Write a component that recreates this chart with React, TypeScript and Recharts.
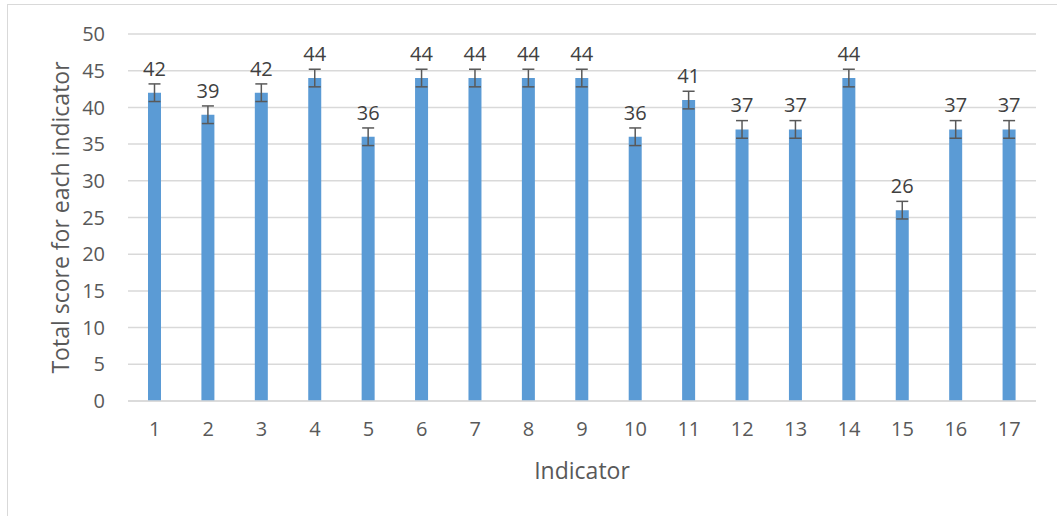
import React from 'react';
import { BarChart, Bar, XAxis, YAxis, CartesianGrid, ErrorBar, LabelList } from 'recharts';

const indicators = ['1','2','3','4','5','6','7','8','9','10','11','12','13','14','15','16','17'];
const scores = [42, 39, 42, 44, 36, 44, 44, 44, 44, 36, 41, 37, 37, 44, 26, 37, 37];
const errors = [1.2, 1.2, 1.2, 1.2, 1.2, 1.2, 1.2, 1.2, 1.2, 1.2, 1.2, 1.2, 1.2, 1.2, 1.2, 1.2, 1.2];
const yTicks = [0, 5, 10, 15, 20, 25, 30, 35, 40, 45, 50];

const data = indicators.map((name, i) => ({ name, score: scores[i], err: errors[i] }));

const FONT = '"Open Sans", sans-serif';
const TEXT = '#595959';

const YTitle = (props: any) => {
  const vb = props.viewBox || {};
  const cx = 60;
  const cy = vb.y + vb.height / 2;
  return (
    <text x={cx} y={cy} transform={`rotate(-90 ${cx} ${cy})`} textAnchor="middle" dominantBaseline="central"
      fontFamily={FONT} fontSize={23} fill={TEXT}>Total score for each indicator</text>
  );
};

const XTitle = (props: any) => {
  const vb = props.viewBox || {};
  const cx = vb.x + vb.width / 2;
  return (
    <text x={cx} y={470} textAnchor="middle" dominantBaseline="central"
      fontFamily={FONT} fontSize={23} fill={TEXT}>Indicator</text>
  );
};

export default function App() {
  return (
    <div style={{ position: 'absolute', left: 0, top: 0, width: 1057, height: 516, overflow: 'hidden', background: '#fff' }}>
      <div style={{ position: 'absolute', left: 7, top: 4, width: 1100, height: 600, border: '1.5px solid #d9d9d9', boxSizing: 'border-box' }} />
      <BarChart width={1057} height={516} data={data} margin={{ top: 34, right: 21, bottom: 85, left: 0 }}
        style={{ position: 'absolute', left: 0, top: 0 }}>
        <CartesianGrid vertical={false} stroke="#d9d9d9" strokeWidth={1.5} />
        <XAxis dataKey="name" axisLine={{ stroke: '#d9d9d9', strokeWidth: 1.5 }} tickLine={false} tickSize={0} tickMargin={21}
          height={30} tick={{ fontFamily: FONT, fontSize: 20, fill: TEXT }} label={<XTitle />} />
        <YAxis domain={[0, 50]} ticks={yTicks} interval={0} axisLine={false} tickLine={false} tickSize={0} tickMargin={23}
          width={128} tick={{ fontFamily: FONT, fontSize: 20, fill: TEXT }} label={<YTitle />} />
        <Bar dataKey="score" fill="#5B9BD5" barSize={13} isAnimationActive={false}>
          <ErrorBar dataKey="err" width={6} stroke="#595959" strokeWidth={1.5} direction="y" />
          <LabelList dataKey="score" position="top" offset={17} style={{ fontFamily: FONT, fontSize: 20, fill: '#404040' }} />
        </Bar>
      </BarChart>
    </div>
  );
}
